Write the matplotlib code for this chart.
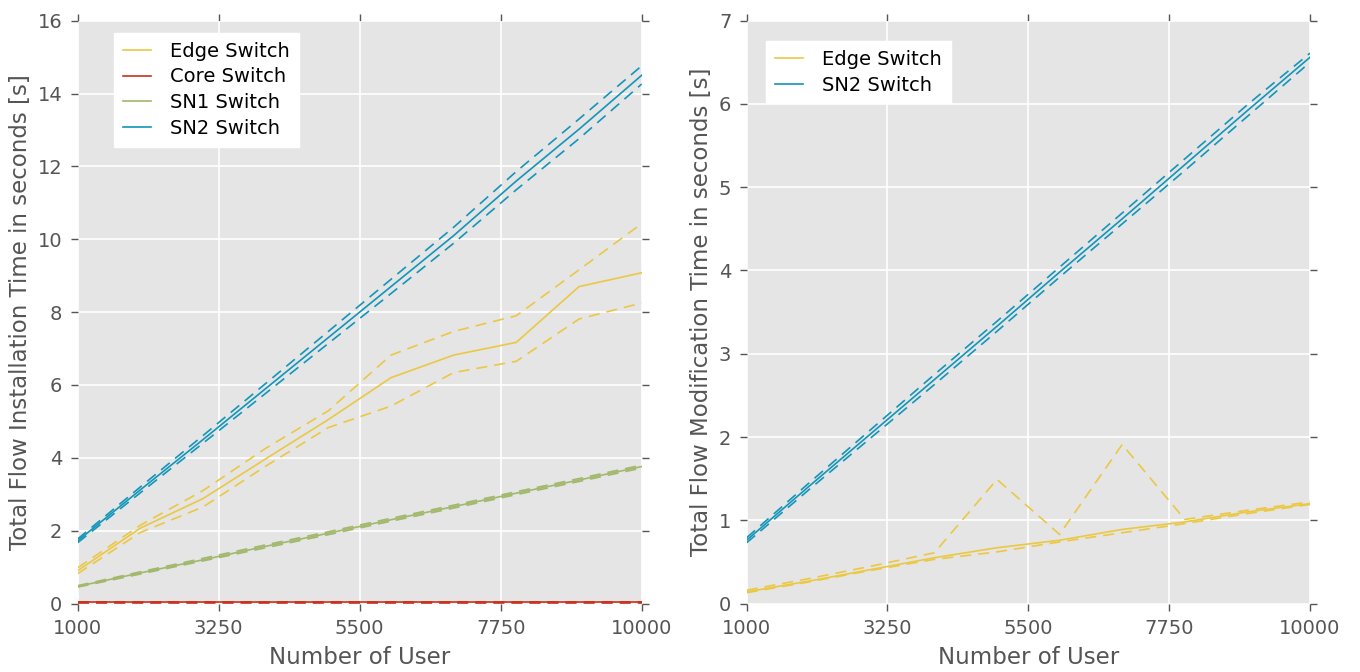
import matplotlib
matplotlib.use('Agg')
import matplotlib.pyplot as plt

# number of users on the x axis
users = [1000, 2000, 3000, 4000, 5000, 6000, 7000, 8000, 9000, 10000]
x_ticks = [1000, 3250, 5500, 7750, 10000]

# installation time [s]: mean, upper and lower bound
inst_edge = [0.90, 2.07, 2.88, 3.97, 5.05, 6.20, 6.82, 7.17, 8.70, 9.08]
inst_edge_hi = [0.98, 2.15, 3.10, 4.26, 5.29, 6.82, 7.47, 7.90, 9.16, 10.43]
inst_edge_lo = [0.82, 1.95, 2.65, 3.77, 4.83, 5.42, 6.34, 6.65, 7.81, 8.25]

inst_core = [0.03, 0.03, 0.03, 0.03, 0.03, 0.03, 0.03, 0.03, 0.03, 0.03]
inst_core_hi = [0.04, 0.04, 0.04, 0.04, 0.04, 0.04, 0.04, 0.04, 0.04, 0.04]
inst_core_lo = [0.02, 0.02, 0.02, 0.02, 0.02, 0.02, 0.02, 0.02, 0.02, 0.02]

inst_sn1 = [0.47, 0.84, 1.20, 1.57, 1.93, 2.30, 2.66, 3.03, 3.39, 3.76]
inst_sn1_hi = [0.49, 0.87, 1.24, 1.61, 1.97, 2.34, 2.70, 3.07, 3.43, 3.80]
inst_sn1_lo = [0.45, 0.81, 1.17, 1.53, 1.89, 2.26, 2.62, 2.99, 3.35, 3.72]

inst_sn2 = [1.72, 3.12, 4.50, 5.90, 7.30, 8.70, 10.10, 11.60, 13.02, 14.50]
inst_sn2_hi = [1.77, 3.20, 4.61, 6.04, 7.47, 8.90, 10.33, 11.86, 13.30, 14.76]
inst_sn2_lo = [1.67, 3.04, 4.40, 5.77, 7.14, 8.51, 9.89, 11.36, 12.76, 14.26]

# modification time [s]
mod_edge = [0.14, 0.27, 0.41, 0.55, 0.67, 0.76, 0.89, 0.98, 1.10, 1.20]
mod_edge_hi = [0.16, 0.30, 0.45, 0.61, 1.49, 0.83, 1.91, 1.01, 1.12, 1.22]
mod_edge_lo = [0.13, 0.26, 0.40, 0.53, 0.62, 0.74, 0.85, 0.96, 1.08, 1.19]

mod_sn2 = [0.76, 1.41, 2.05, 2.69, 3.33, 3.98, 4.62, 5.27, 5.92, 6.56]
mod_sn2_hi = [0.79, 1.45, 2.10, 2.75, 3.39, 4.04, 4.69, 5.34, 5.99, 6.61]
mod_sn2_lo = [0.73, 1.37, 2.00, 2.63, 3.27, 3.92, 4.56, 5.20, 5.85, 6.50]

YELLOW = '#EBC844'
RED = '#C8321E'
GREEN = '#A2B86C'
BLUE = '#1395BA'

plt.rcParams['lines.scale_dashes'] = False


def draw_series(ax, label, mean, hi, lo, color):
    ax.plot(users, mean, color=color, lw=1.2, label=label)
    ax.plot(users, hi, color=color, lw=1.2, dashes=(8, 5))
    ax.plot(users, lo, color=color, lw=1.2, dashes=(8, 5))


def style_axes(ax, ymax, ylabel):
    ax.set_facecolor('#E5E5E5')
    for sp in ax.spines.values():
        sp.set_visible(False)
    ax.grid(True, color='white', lw=1.2)
    ax.set_axisbelow(True)
    ax.set_xlim(1000, 10000)
    ax.set_xticks(x_ticks)
    ax.set_ylim(0, ymax)
    ax.tick_params(direction='out', length=5, width=1, color='#555555',
                   labelcolor='#555555', labelsize=14, top=True, right=True, pad=6)
    ax.set_xlabel('Number of User', fontsize=16.5, color='#555555', labelpad=6)
    ax.set_ylabel(ylabel, fontsize=16.5, color='#555555', labelpad=4)


fig = plt.figure(figsize=(13.6, 6.72), dpi=100)
ax1 = fig.add_axes([0.0571, 0.1019, 0.4147, 0.8673])
ax2 = fig.add_axes([0.5490, 0.1019, 0.4142, 0.8673])

draw_series(ax1, 'Edge Switch', inst_edge, inst_edge_hi, inst_edge_lo, YELLOW)
draw_series(ax1, 'Core Switch', inst_core, inst_core_hi, inst_core_lo, RED)
draw_series(ax1, 'SN1 Switch', inst_sn1, inst_sn1_hi, inst_sn1_lo, GREEN)
draw_series(ax1, 'SN2 Switch', inst_sn2, inst_sn2_hi, inst_sn2_lo, BLUE)
style_axes(ax1, 16, 'Total Flow Installation Time in seconds [s]')
ax1.set_yticks(range(0, 17, 2))

draw_series(ax2, 'Edge Switch', mod_edge, mod_edge_hi, mod_edge_lo, YELLOW)
draw_series(ax2, 'SN2 Switch', mod_sn2, mod_sn2_hi, mod_sn2_lo, BLUE)
style_axes(ax2, 7, 'Total Flow Modification Time in seconds [s]')
ax2.set_yticks(range(0, 8))

for ax, anchor in [(ax1, (0.064, 0.979)), (ax2, (0.034, 0.965))]:
    leg = ax.legend(loc='upper left', bbox_to_anchor=anchor, borderaxespad=0,
                    fontsize=14, frameon=True, fancybox=False, framealpha=1,
                    handlelength=1.45, handletextpad=1.0, labelspacing=0.35,
                    borderpad=0.45)
    leg.get_frame().set_facecolor('white')
    leg.get_frame().set_edgecolor('white')

fig.savefig('out.png', dpi=100)
